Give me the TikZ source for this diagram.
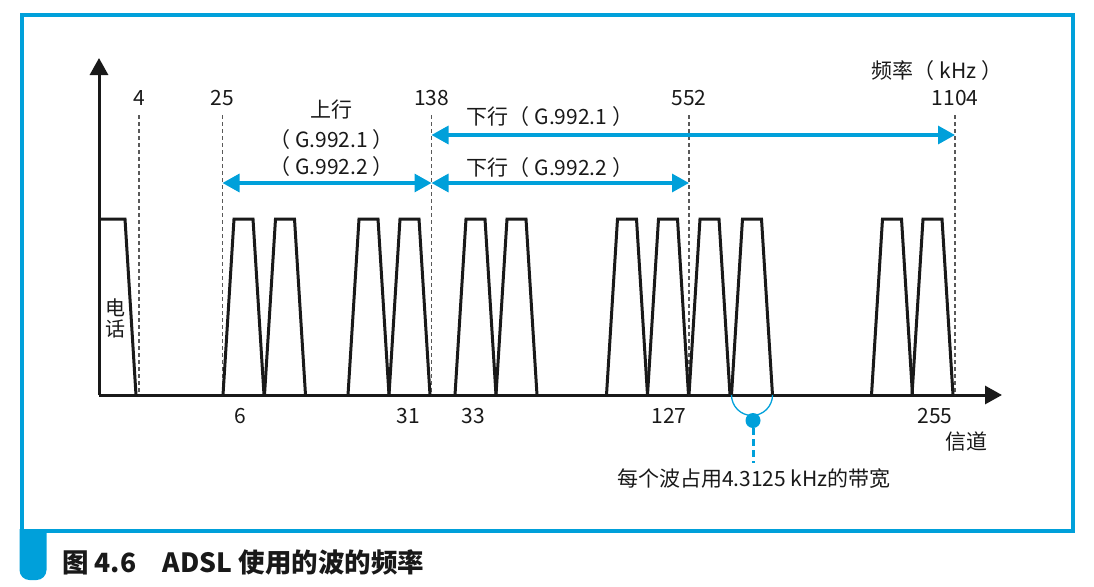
\documentclass[tikz,border=0pt]{standalone}
\usepackage{fontspec}
\setmainfont{Noto Sans CJK SC}
\usetikzlibrary{arrows.meta, positioning}
\definecolor{mainBlack}{gray}{0.1}
\definecolor{subGray}{gray}{0.35}
\definecolor{lineBlue}{RGB}{0,160,218}

\begin{document}
\begin{tikzpicture}[x=1pt, y=-1pt, >={Triangle[length=17pt, width=18pt]},
    lbl/.style={font=\fontsize{21}{24}\selectfont, text=mainBlack, inner sep=0pt},
    wave/.style={line width=3pt, mainBlack},
    guide/.style={subGray, line width=1.3pt, dash pattern=on 4pt off 3pt},
    span/.style={<->, lineBlue, line width=3.2pt}]
    \useasboundingbox (0,0) rectangle (1094,586);

    % frame and caption
    \draw[lineBlue, line width=4pt] (21.5,15.5) rectangle (1073,531);
    \fill[lineBlue, rounded corners=10pt] (19.5,529) -- (19.5,580) -- (46.5,580) [sharp corners] -- (46.5,529) -- cycle;
    \node[anchor=west, font=\fontsize{26.5}{30}\selectfont\bfseries, text=mainBlack, inner sep=0pt] (caption) at (62,562) {图 4.6　ADSL 使用的波的频率};

    % axes
    \coordinate (O) at (99,395);
    \coordinate (Y) at (99,58);
    \coordinate (X) at (1002,395);
    \draw[->, wave] (O) -- (Y);
    \draw[->, wave] (O) -- (X);

    % frequency marks
    \foreach \x/\f in {139/4, 222.5/25, 431.5/138, 689/552, 955/1104} {
        \coordinate (g\f) at (\x,115);
        \coordinate (b\f) at (\x,395);
        \draw[guide] (g\f) -- (b\f);
        \node[lbl] (f\f) at (\x,98) {\f};
    }
    \node[lbl] (unit) at (937,70.5) {频率（ kHz ）};

    % phone band
    \draw[wave] (99,219) -- (125,219) -- (136,395);
    \node[lbl, align=center, font=\fontsize{20}{21}\selectfont] (phone) at (115,318) {电\\话};

    % channels
    \foreach \x in {223, 264.5, 348, 389, 455, 496, 606.5, 647.5, 689, 731.5, 871.5, 912}
        \draw[wave] (\x,395) -- ++(11,-176) -- ++(19,0) -- ++(11,176);

    \foreach \x/\c in {240/6, 408/31, 473/33, 669/127, 935/255}
        \node[lbl] (c\c) at (\x,416) {\c};
    \node[lbl] (chan) at (966.5,441.5) {信道};

    % up / down ranges
    \coordinate (u1) at (222.5,183);
    \coordinate (u2) at (431.5,183);
    \draw[span] (u1) -- (u2);
    \coordinate (d1) at (431.5,183);
    \coordinate (d2) at (689,183);
    \draw[span] (d1) -- (d2);
    \coordinate (e1) at (431.5,135);
    \coordinate (e2) at (955,135);
    \draw[span] (e1) -- (e2);

    \node[lbl] (up) at (331.5,110) {上行};
    \node[lbl] (up1) at (331.5,140) {（ G.992.1 ）};
    \node[lbl] (up2) at (331.5,167) {（ G.992.2 ）};
    \node[lbl] (dn1) at (550,116.5) {下行（ G.992.1 ）};
    \node[lbl] (dn2) at (550,168) {下行（ G.992.2 ）};

    % one channel width
    \coordinate (w1) at (731.5,395);
    \draw[lineBlue, line width=1.3pt] (w1) arc[start angle=180, end angle=0, radius=20.5];
    \node[circle, fill=lineBlue, inner sep=0pt, minimum size=15pt] (dot) at (753,420.5) {};
    \coordinate (tail) at (753,463);
    \draw[lineBlue, line width=3pt, dash pattern=on 7pt off 4pt] (dot) -- (tail);
    \node[lbl] (note) at (754,478.5) {每个波占用4.3125 kHz的带宽};
\end{tikzpicture}
\end{document}
